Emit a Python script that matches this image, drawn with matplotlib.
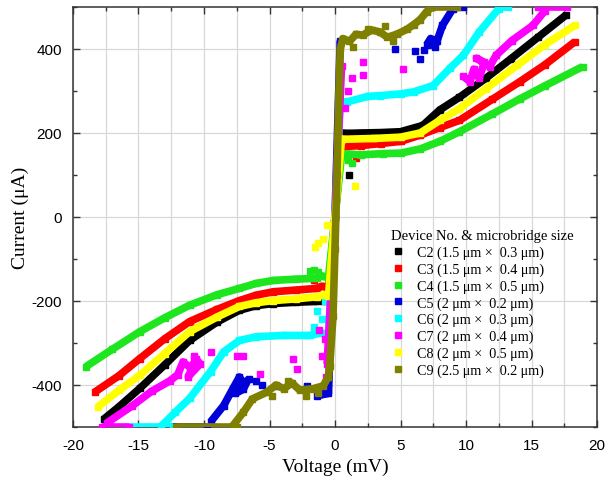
import numpy as np
import matplotlib
matplotlib.use("Agg")
import matplotlib.pyplot as plt
from matplotlib.lines import Line2D
from matplotlib.ticker import MultipleLocator

plt.rcParams["axes.unicode_minus"] = False
nan = float("nan")

devices = ["C2", "C3", "C4", "C5", "C6", "C7", "C8", "C9"]
labels = ["C2 (1.5 \u03bcm \u00d7  0.3 \u03bcm)", "C3 (1.5 \u03bcm \u00d7  0.4 \u03bcm)",
          "C4 (1.5 \u03bcm \u00d7  0.5 \u03bcm)", "C5 (2 \u03bcm \u00d7  0.2 \u03bcm)",
          "C6 (2 \u03bcm \u00d7  0.3 \u03bcm)", "C7 (2 \u03bcm \u00d7  0.4 \u03bcm)",
          "C8 (2 \u03bcm \u00d7  0.5 \u03bcm)", "C9 (2.5 \u03bcm \u00d7  0.2 \u03bcm)"]
colors = ["#000000", "#ff0000", "#1ee61e", "#0000d8", "#00ffff", "#ff00ff", "#ffff00", "#808000"]

# ---- C2 ----
C2_V = [-17.6, -16.5, -14.9, -13.0, -11.1, -9.0, -7.3, -6.0, -4.7, -3.0, -1.4, -0.9, -0.5, 0.0, 0.5,
        0.9, 2.0, 3.5, 5.0, 6.7, 8.0, 9.5, 11.5, 13.4, 15.5, 17.6]
C2_I = [-480, -452, -408, -352, -294, -250, -222, -211, -206, -203, -201, -199, -200, 0, 200,
        199, 200, 201, 203, 218, 255, 285, 330, 376, 428, 480]
C2_sV = [1.1]
C2_sI = [100]

# ---- C3 ----
C3_V = [-18.3, -16.5, -14.9, -13.0, -11.1, -9.0, -7.3, -6.0, -4.7, -3.0, -1.4, -1.0, -0.5, 0.0, 0.5,
        0.8, 2.0, 3.5, 5.0, 6.5, 8.0, 9.5, 12.0, 14.1, 16.0, 18.3]
C3_I = [-416, -378, -337, -290, -249, -220, -199, -186, -178, -174, -170, -165, -168, 0, 168,
        168, 170, 175, 180, 195, 213, 230, 280, 322, 362, 417]
C3_sV = [-1.6, 1.6]
C3_sI = [-150, 140]

# ---- C4 ----
C4_V = [-19.0, -17.0, -14.9, -13.0, -11.1, -9.0, -7.3, -6.0, -4.7, -3.0, -1.4, -1.0, -0.5, 0.0, 0.5,
        1.0, 2.0, 3.7, 5.0, 6.5, 8.0, 9.5, 12.0, 14.1, 16.0, 18.9]
C4_I = [-356, -315, -273, -240, -210, -185, -170, -158, -151, -148, -146, -140, -145, 0, 148,
        150, 148, 151, 152, 162, 180, 203, 245, 281, 312, 358]
C4_sV = [-1.9, -1.6, -1.3, 1.0, 1.3]
C4_sI = [-128, -125, -132, 135, 128]

# ---- C5 ----
C5_V = [-12.4, -9.8, nan, -9.5, -8.5, -7.8, -7.3, -7.0, -7.6, -7.0, -6.6, nan,
        -1.4, -0.5, 0.0, 0.4, nan,
        7.0, 7.3, 7.6, 7.8, 8.2, 9.0, 9.3, nan, 9.1, 9.8]
C5_I = [-500, -500, nan, -488, -449, -409, -381, -395, -420, -410, -385, nan,
        -426, -420, 0, 420, nan,
        410, 425, 405, 420, 456, 496, 500, nan, 500, 500]
C5_sV = [-6.0, -5.6, -4.4, -2.1, -1.0, 4.6, 6.1, 6.5, 6.8]
C5_sI = [-390, -400, -402, -402, -410, 400, 396, 377, 398]

# ---- C6 ----
C6_V = [-15.7, -12.4, nan, -13.3, -12.2, -11.1, -9.5, -8.5, -7.3, -6.0, -3.9, -1.9, -1.1, -0.5, 0.0,
        0.4, 0.9, 2.5, 3.4, 5.0, 6.0, 7.5, 8.8, 9.8, 11.0, 12.5, nan, 12.6, 13.2]
C6_I = [-500, -500, nan, -499, -465, -432, -368, -321, -294, -285, -282, -282, -276, -280, 0,
        275, 274, 287, 289, 293, 298, 313, 355, 385, 440, 496, nan, 500, 500]
C6_sV = [-1.4, -1.0, -1.6, -0.8]
C6_sI = [-223, -242, -262, -200]

# ---- C7 ----
C7_V = [-17.8, -15.7, nan, -17.4, -15.5, -14.0, -12.6, -12.0, -11.6, -11.0, -10.6, -11.2, -10.3, -10.8, nan,
        -0.6, 0.0, 0.5, nan,
        9.8, 10.3, 10.6, 11.0, 11.4, 10.8, 11.8, 12.3, 13.5, 15.1, 16.0, nan, 15.5, 17.7]
C7_I = [-500, -500, nan, -490, -450, -415, -390, -375, -345, -360, -338, -380, -350, -330, nan,
        -350, 0, 360, nan,
        335, 322, 352, 330, 368, 378, 358, 385, 420, 456, 490, nan, 500, 500]
C7_sV = [-9.5, -7.5, -7.0, -5.7, -3.2, -2.9, -1.2, -0.8, -1.0, -0.7,
         2.1, 2.1, 5.2, 1.3, 1.0, 0.8]
C7_sI = [-321, -330, -330, -373, -337, -361, -270, -290, -330, -380,
         369, 337, 353, 330, 300, 260]

# ---- C8 ----
C8_V = [-18.1, -16.5, -14.9, -13.0, -11.1, -9.0, -7.3, -6.0, -4.7, -3.0, -1.4, -0.9, -0.5, 0.0, 0.5,
        0.6, 3.0, 5.0, 6.5, 8.0, 9.5, 11.5, 13.9, 16.0, 18.3]
C8_I = [-452, -413, -377, -325, -273, -238, -213, -204, -199, -195, -190, -185, -188, 0, 186,
        185, 187, 190, 200, 230, 258, 305, 361, 410, 456]
C8_sV = [-0.9, -1.5, -1.3, 1.5, -0.6]
C8_sI = [-52, -71, -62, 75, -20]

# ---- C9 ----
C9_V = [-12.1, -7.5, nan, -7.8, -7.0, -6.3, -5.2, -4.5, -3.9, -3.3, -2.7, -1.7, -0.9, -0.5, -0.4, -0.15,
        0.0, 0.15, 0.3, 0.4, 0.6, 1.1, 1.6, 2.1, 2.8, 3.4, 4.0, 4.7, 5.5, 6.0, 6.5, 7.0, 7.4, nan, 7.4, 9.3]
C9_I = [-500, -500, nan, -497, -465, -433, -417, -400, -409, -395, -412, -409, -402, -380, -354, -235,
        -75, 100, 300, 400, 425, 418, 435, 433, 445, 441, 428, 435, 447, 458, 470, 489, 500, nan, 500, 500]
C9_sV = [-4.8, -3.6, -2.2, -1.3, 1.4, 2.5, 3.8, 4.4]
C9_sI = [-425, -390, -425, -420, 405, 448, 455, 420]

series_V = [C2_V, C3_V, C4_V, C5_V, C6_V, C7_V, C8_V, C9_V]
series_I = [C2_I, C3_I, C4_I, C5_I, C6_I, C7_I, C8_I, C9_I]
stray_V = [C2_sV, C3_sV, C4_sV, C5_sV, C6_sV, C7_sV, C8_sV, C9_sV]
stray_I = [C2_sI, C3_sI, C4_sI, C5_sI, C6_sI, C7_sI, C8_sI, C9_sI]

fig = plt.figure(figsize=(6.16, 4.81), dpi=100)
ax = fig.add_axes([73 / 616, 53 / 481, 524 / 616, 420 / 481])

for V, I, sV, sI, c in zip(series_V, series_I, stray_V, stray_I, colors):
    ax.plot(V, I, color=c, lw=5.5, marker="s", ms=4.5, mec=c, mfc=c,
            solid_joinstyle="round", solid_capstyle="butt", zorder=3)
    ax.plot(sV, sI, ls="none", color=c, marker="s", ms=4.5, mec=c, mfc=c, zorder=3)

ax.set_xlim(-20, 20)
ax.set_ylim(-500, 500)
ax.xaxis.set_major_locator(MultipleLocator(5))
ax.xaxis.set_minor_locator(MultipleLocator(2.5))
ax.yaxis.set_major_locator(MultipleLocator(200))
ax.yaxis.set_minor_locator(MultipleLocator(100))
ax.set_axisbelow(True)
ax.xaxis.grid(True, which="both", color="#d8d8d8", lw=0.9)
ax.yaxis.grid(True, which="major", color="#d8d8d8", lw=0.9)
ax.tick_params(which="both", direction="in", top=True, right=True, width=1.0, color="#333333")
ax.tick_params(which="major", length=5, labelsize=11, pad=8)
ax.tick_params(which="minor", length=3)
for lab in ax.get_xticklabels() + ax.get_yticklabels():
    lab.set_family("Liberation Sans")
for s in ax.spines.values():
    s.set_linewidth(1.1)
    s.set_color("#333333")

ax.set_xlabel("Voltage (mV)", family="Liberation Serif", fontsize=14, labelpad=4)
ax.set_ylabel("Current (\u03bcA)", family="Liberation Serif", fontsize=14, labelpad=2)

handles = [Line2D([], [], ls="none", marker="s", ms=5, color=c) for c in colors]
leg = ax.legend(handles, labels, loc="upper left", bbox_to_anchor=(0.588, 0.495),
                frameon=False, title="Device No. & microbridge size",
                prop={"family": "Liberation Serif", "size": 10.2},
                title_fontproperties={"family": "Liberation Serif", "size": 10.5},
                labelspacing=0.24, handletextpad=0.8, handlelength=1.0, borderpad=0.2)
leg._legend_box.align = "left"

fig.savefig("out.png", dpi=100)
